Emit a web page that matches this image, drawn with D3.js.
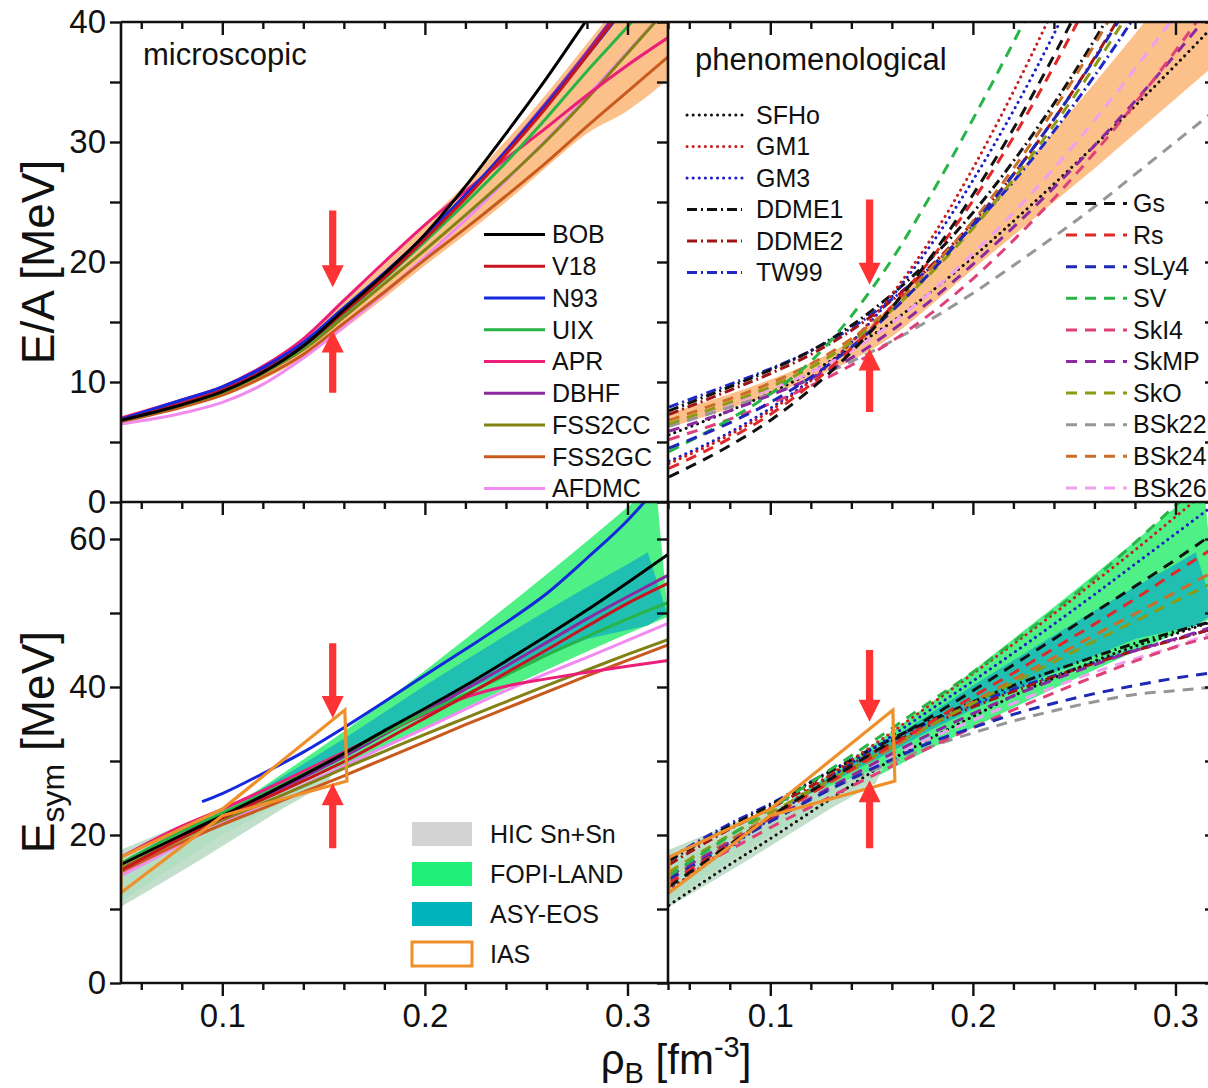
<!DOCTYPE html>
<html>
<head>
<meta charset="utf-8">
<script src="https://cdn.jsdelivr.net/npm/d3@7"></script>
<style>
  body { margin: 0; background: #fff; }
  svg { display: block; }
  text { font-family: "Liberation Sans", Arial, Helvetica, sans-serif; fill: #111; }
</style>
</head>
<body>
<svg id="chart" width="1208" height="1088"></svg>
<script>
// ---------------- data ----------------
// density grid (fm^-3) shared by the model curves
const rhoGrid = [0.05, 0.08, 0.10, 0.12, 0.14, 0.16, 0.18, 0.20, 0.22, 0.24, 0.26, 0.28, 0.30, 0.32];

// energy per nucleon E/A (MeV), microscopic models
const eaBOB    = [6.8, 8.1, 9.2, 10.8, 13.0, 16.0, 19.0, 22.3, 26.3, 30.7, 35.3, 40.2, 45.0, 50.0];
const eaV18    = [6.8, 8.2, 9.3, 10.9, 13.0, 15.8, 18.7, 21.9, 25.3, 29.0, 32.9, 37.2, 41.7, 46.4];
const eaN93    = [6.9, 8.5, 9.6, 11.2, 13.3, 16.2, 19.1, 22.2, 25.6, 29.2, 33.1, 37.2, 41.5, 46.0];
const eaUIX    = [6.8, 8.1, 9.2, 10.8, 12.9, 15.7, 18.6, 21.7, 24.9, 28.3, 32.0, 35.9, 39.6, 43.5];
const eaAPR    = [7.0, 8.5, 9.6, 11.3, 13.6, 16.8, 20.0, 23.1, 25.9, 28.6, 31.2, 33.9, 36.4, 38.7];
const eaDBHF   = [6.9, 8.3, 9.4, 11.0, 13.1, 16.0, 19.0, 22.1, 25.5, 29.3, 33.3, 37.5, 42.0, 46.5];
const eaFSS2CC = [6.8, 8.1, 9.1, 10.7, 12.7, 15.4, 18.2, 21.0, 23.9, 26.9, 30.1, 33.6, 37.4, 41.2];
const eaFSS2GC = [6.7, 7.9, 8.9, 10.4, 12.3, 14.9, 17.5, 20.2, 22.8, 25.5, 28.3, 31.3, 34.2, 37.1];
const eaAFDMC  = [6.5, 7.4, 8.3, 9.8, 12.0, 14.6, 17.4, 20.4, 23.5, 26.8, 30.2, 33.8, 37.5, 41.2];

// symmetry energy E_sym (MeV), microscopic models
const esBOB    = [16.0, 20.0, 22.6, 25.3, 28.1, 31.0, 34.1, 37.1, 40.2, 43.5, 46.9, 50.4, 54.1, 57.9];
const esV18    = [15.2, 19.6, 22.3, 24.8, 27.3, 29.9, 32.8, 35.8, 38.8, 41.9, 45.0, 48.2, 51.3, 54.0];
const esUIX    = [16.2, 20.5, 23.0, 25.5, 28.2, 31.0, 33.8, 36.5, 39.0, 41.6, 44.3, 46.8, 49.2, 51.4];
const esAPR    = [17.0, 21.2, 23.5, 26.0, 28.6, 31.2, 33.8, 36.3, 38.6, 40.1, 41.1, 42.0, 42.8, 43.6];
const esDBHF   = [null, 20.5, 22.8, 25.2, 27.8, 30.6, 33.6, 36.6, 39.7, 42.8, 46.0, 49.2, 52.2, 55.1];
const esFSS2CC = [15.5, 19.5, 22.0, 24.3, 26.6, 29.0, 31.3, 33.6, 35.8, 38.0, 40.2, 42.3, 44.4, 46.4];
const esFSS2GC = [15.0, 19.0, 21.4, 23.6, 25.8, 28.0, 30.3, 32.6, 34.9, 37.1, 39.3, 41.5, 43.6, 45.7];
const esAFDMC  = [14.5, 18.8, 21.6, 24.1, 26.7, 29.3, 31.9, 34.4, 37.0, 39.5, 41.8, 44.0, 46.3, 48.6];
const esN93Rho = [0.09, 0.10, 0.12, 0.14, 0.16, 0.18, 0.20, 0.22, 0.24, 0.26, 0.28, 0.30, 0.31];
const esN93    = [24.5, 25.6, 28.3, 31.2, 34.5, 38.0, 41.6, 45.1, 48.7, 52.6, 57.4, 62.5, 65.5];

// E/A (MeV), phenomenological models
const eaSFHo  = [5.6, 7.6, 9.1, 10.8, 12.8, 15.0, 17.6, 20.4, 23.4, 26.5, 29.7, 33.0, 36.4, 39.9];
const eaGM1   = [3.2, 5.6, 7.6, 10.1, 13.3, 17.3, 22.1, 27.8, 34.2, 41.2, 49.0, null, null, null];
const eaGM3   = [3.4, 5.8, 7.8, 10.2, 13.3, 17.1, 21.6, 26.8, 32.6, 39.0, 46.0, null, null, null];
const eaDDME1 = [7.6, 9.6, 11.0, 12.6, 14.7, 17.3, 20.4, 24.1, 28.4, 33.2, 38.5, 44.3, null, null];
const eaDDME2 = [7.3, 9.3, 10.7, 12.3, 14.3, 16.8, 19.8, 23.3, 27.3, 31.9, 37.0, 42.6, null, null];
const eaTW99  = [7.9, 9.8, 11.1, 12.6, 14.5, 16.9, 19.7, 23.0, 26.7, 30.9, 35.5, 40.5, 46.0, null];
const eaGs    = [2.1, 4.7, 6.8, 9.4, 12.5, 16.2, 20.6, 25.6, 31.1, 37.2, 43.8, null, null, null];
const eaRs    = [2.8, 5.3, 7.3, 9.8, 12.8, 16.3, 20.4, 25.1, 30.4, 36.3, 42.7, null, null, null];
const eaSLy4  = [4.5, 6.6, 8.3, 10.4, 12.9, 15.9, 19.3, 23.1, 27.3, 31.9, 36.9, 42.3, null, null];
const eaSV    = [4.2, 6.9, 9.0, 11.7, 15.5, 20.2, 25.8, 31.9, 38.3, 45.0, null, null, null, null];
const eaSkI4  = [5.2, 6.9, 8.2, 9.7, 11.4, 13.4, 15.8, 18.6, 21.8, 25.3, 29.1, 33.2, 37.6, 42.3];
const eaSkMP  = [5.9, 7.6, 8.9, 10.3, 12.0, 14.3, 16.9, 19.8, 22.9, 26.2, 29.7, 33.4, 37.3, 41.4];
const eaSkO   = [6.5, 8.3, 9.6, 11.2, 13.3, 16.0, 19.2, 22.8, 26.9, 31.4, 36.3, 41.6, null, null];
const eaBSk22 = [6.3, 7.9, 9.0, 10.2, 11.7, 13.4, 15.3, 17.4, 19.7, 22.1, 24.6, 27.3, 30.0, 32.7];
const eaBSk24 = [6.8, 8.6, 9.9, 11.5, 13.6, 16.3, 19.6, 23.4, 27.8, 32.7, 38.1, 44.0, null, null];
const eaBSk26 = [6.5, 8.2, 9.4, 10.8, 12.6, 14.9, 17.6, 20.7, 24.1, 27.8, 31.8, 36.1, 40.6, 45.3];

// E_sym (MeV), phenomenological models
const esSFHo  = [10.5, 16.0, 19.5, 23.1, 26.7, 30.2, 33.2, 36.0, 38.8, 41.2, 43.5, 45.5, 47.2, 49.0];
const esGM1   = [12.5, 18.5, 22.5, 26.3, 30.1, 33.9, 37.8, 41.8, 45.8, 49.9, 54.2, 58.5, 63.0, 67.5];
const esGM3   = [12.5, 18.3, 22.2, 26.0, 29.7, 33.4, 37.1, 40.8, 44.6, 48.5, 52.5, 56.6, 60.7, 64.8];
const esDDME1 = [16.5, 21.2, 24.0, 27.1, 30.1, 33.0, 35.6, 38.0, 40.2, 42.2, 44.1, 45.9, 47.5, 49.0];
const esDDME2 = [16.0, 20.8, 23.6, 26.6, 29.6, 32.4, 35.0, 37.3, 39.4, 41.4, 43.2, 44.9, 46.4, 48.0];
const esTW99  = [16.8, 21.5, 24.2, 27.2, 30.2, 33.0, 35.4, 37.6, 39.7, 41.5, 43.3, 45.0, 46.5, 48.0];
const esGs    = [13.0, 18.7, 22.5, 25.9, 29.3, 32.7, 36.1, 39.5, 43.0, 46.5, 50.1, 53.6, 57.2, 61.0];
const esRs    = [13.5, 18.8, 22.3, 25.6, 28.9, 32.1, 35.4, 38.7, 41.9, 45.2, 48.5, 51.9, 55.5, 59.0];
const esSLy4  = [14.0, 18.7, 21.8, 24.8, 27.6, 30.2, 32.6, 34.5, 36.3, 37.8, 39.1, 40.2, 41.2, 42.0];
const esSV    = [14.5, 19.9, 23.5, 27.1, 30.7, 34.4, 38.2, 42.0, 46.1, 50.3, 54.7, 59.5, 64.5, 69.0];
const esSkI4  = [13.5, 18.0, 21.0, 23.8, 26.6, 29.3, 32.0, 34.5, 36.9, 39.2, 41.4, 43.5, 45.4, 47.0];
const esSkMP  = [14.5, 19.0, 22.0, 25.0, 28.0, 31.0, 33.8, 36.4, 38.8, 41.0, 43.0, 44.9, 46.5, 48.3];
const esSkO   = [15.0, 20.0, 23.0, 26.0, 29.0, 32.0, 35.0, 37.8, 40.6, 43.4, 46.2, 48.9, 51.6, 54.3];
const esBSk22 = [14.5, 19.0, 22.0, 24.9, 27.5, 29.8, 32.0, 33.8, 35.4, 36.8, 38.0, 39.0, 39.5, 40.0];
const esBSk24 = [14.0, 19.3, 22.5, 25.6, 28.7, 31.8, 34.9, 38.0, 41.0, 44.0, 47.0, 49.9, 52.8, 55.8];
const esBSk26 = [14.5, 19.0, 22.0, 25.0, 28.0, 30.7, 33.2, 35.5, 37.8, 40.0, 42.0, 43.8, 45.5, 47.5];

// E/A uncertainty bands (upper / lower), MeV
const bandMicroUpper = [null, null, 9.7, 11.4, 13.7, 16.8, 19.9, 23.2, 26.5, 30.1, 34.0, 38.2, 42.5, 47.0];
const bandMicroLower = [null, null, 8.8, 10.2, 12.0, 14.4, 17.0, 19.7, 22.3, 25.0, 27.9, 30.7, 32.6, 35.2];
const bandPhenUpper  = [7.4, 9.0, 10.2, 11.6, 13.5, 16.4, 19.8, 23.3, 27.0, 30.9, 34.9, 39.0, 43.3, 47.7];
const bandPhenLower  = [6.2, 7.8, 8.9, 10.3, 11.8, 13.8, 16.5, 19.4, 22.2, 25.0, 27.8, 30.7, 33.6, 36.5];

// E_sym experimental constraints: polygons as [rho, E_sym]
const hicSnSn  = [[0.05, 18.0], [0.08, 21.4], [0.10, 23.5], [0.12, 25.6], [0.14, 27.7], [0.156, 29.3],
                  [0.152, 27.0], [0.13, 23.6], [0.11, 20.2], [0.09, 16.8], [0.07, 13.5], [0.05, 10.3]];
const fopiLand = [[0.05, 16.0], [0.08, 20.0], [0.10, 23.0], [0.12, 26.5], [0.14, 30.2], [0.16, 34.0],
                  [0.18, 38.0], [0.20, 42.2], [0.22, 46.5], [0.24, 50.8], [0.26, 55.2], [0.28, 59.7],
                  [0.30, 64.3], [0.314, 67.5], [0.32, 49.5], [0.30, 47.2], [0.28, 44.8], [0.26, 42.3],
                  [0.24, 39.8], [0.22, 37.2], [0.20, 34.5], [0.18, 31.8], [0.16, 29.0], [0.14, 26.0],
                  [0.12, 23.0], [0.10, 20.0], [0.08, 16.5], [0.05, 11.0]];
const asyEos   = [[0.10, 23.0], [0.12, 26.3], [0.14, 29.6], [0.16, 33.0], [0.18, 36.6], [0.20, 40.2],
                  [0.22, 43.6], [0.24, 47.0], [0.26, 50.3], [0.28, 53.5], [0.30, 56.6], [0.31, 58.2],
                  [0.3195, 50.0], [0.31, 48.3], [0.28, 46.5], [0.26, 44.2], [0.24, 42.0], [0.22, 39.5],
                  [0.20, 37.0], [0.18, 34.3], [0.16, 31.3], [0.14, 28.5], [0.12, 25.6], [0.10, 22.3]];
const ias      = [[0.05, 17.0], [0.10, 23.5], [0.1605, 36.9], [0.1615, 27.3], [0.10, 22.6], [0.05, 12.2]];

// saturation-density arrows: [rho, start, tip]
const arrowsEAmicro = [[0.1545, 24.3, 17.9], [0.1545, 9.1, 14.3]];
const arrowsEAphen  = [[0.149, 25.2, 18.1], [0.149, 7.5, 12.8]];
const arrowsESmicro = [[0.1545, 45.9, 35.8], [0.1545, 18.2, 27.0]];
const arrowsESphen  = [[0.149, 45.0, 35.3], [0.149, 18.2, 27.4]];

// tick labels
const xTickLabels = [0.1, 0.2, 0.3];
const eaTickLabels = [0, 10, 20, 30, 40];
const esTickLabels = [0, 20, 40, 60];

// ---------------- model tables ----------------
const microModels = [
  { name: "BOB",    color: "#000000", ea: eaBOB,    es: esBOB },
  { name: "V18",    color: "#c8141e", ea: eaV18,    es: esV18 },
  { name: "N93",    color: "#1428dc", ea: eaN93,    es: null },
  { name: "UIX",    color: "#28b446", ea: eaUIX,    es: esUIX },
  { name: "APR",    color: "#ec1e78", ea: eaAPR,    es: esAPR },
  { name: "DBHF",   color: "#8c28a0", ea: eaDBHF,   es: esDBHF },
  { name: "FSS2CC", color: "#828214", ea: eaFSS2CC, es: esFSS2CC },
  { name: "FSS2GC", color: "#c85a1e", ea: eaFSS2GC, es: esFSS2GC },
  { name: "AFDMC",  color: "#f08cf0", ea: eaAFDMC,  es: esAFDMC }
];
const DOT = "0.1,6", DASH = "11,8", DASHDOT = "10,4,2,4";
const phenModelsA = [
  { name: "SFHo",  color: "#111111", dash: DOT,     ea: eaSFHo,  es: esSFHo },
  { name: "GM1",   color: "#c81e1e", dash: DOT,     ea: eaGM1,   es: esGM1 },
  { name: "GM3",   color: "#1e1ec8", dash: DOT,     ea: eaGM3,   es: esGM3 },
  { name: "DDME1", color: "#111111", dash: DASHDOT, ea: eaDDME1, es: esDDME1 },
  { name: "DDME2", color: "#a01414", dash: DASHDOT, ea: eaDDME2, es: esDDME2 },
  { name: "TW99",  color: "#1e28c8", dash: DASHDOT, ea: eaTW99,  es: esTW99 }
];
const phenModelsB = [
  { name: "Gs",    color: "#111111", dash: DASH, ea: eaGs,    es: esGs },
  { name: "Rs",    color: "#e02828", dash: DASH, ea: eaRs,    es: esRs },
  { name: "SLy4",  color: "#1e28b4", dash: DASH, ea: eaSLy4,  es: esSLy4 },
  { name: "SV",    color: "#28b446", dash: DASH, ea: eaSV,    es: esSV },
  { name: "SkI4",  color: "#e0407a", dash: DASH, ea: eaSkI4,  es: esSkI4 },
  { name: "SkMP",  color: "#8c28a0", dash: DASH, ea: eaSkMP,  es: esSkMP },
  { name: "SkO",   color: "#8c9a14", dash: DASH, ea: eaSkO,   es: esSkO },
  { name: "BSk22", color: "#969696", dash: DASH, ea: eaBSk22, es: esBSk22 },
  { name: "BSk24", color: "#cc6e28", dash: DASH, ea: eaBSk24, es: esBSk24 },
  { name: "BSk26", color: "#f0a0f0", dash: DASH, ea: eaBSk26, es: esBSk26 }
];
const constraintLegend = [
  { name: "HIC Sn+Sn", fill: "#d3d3d3" },
  { name: "FOPI-LAND", fill: "#1ef078" },
  { name: "ASY-EOS",   fill: "#00b4be" },
  { name: "IAS",       fill: "none", stroke: "#f0902a" }
];

// ---------------- layout ----------------
const svg = d3.select("#chart");
const FONT_TICK = 33;
const xLeft  = d3.scaleLinear().domain([0.05, 0.32]).range([121, 668]);
const xRight = d3.scaleLinear().domain([0.05, 0.32]).range([669, 1216]);
const yEA = d3.scaleLinear().domain([0, 40]).range([502, 22]);
const yES = d3.scaleLinear().domain([0, 65]).range([983, 502]);

const defs = svg.append("defs");
function makeClip(id, x, y) {
  defs.append("clipPath").attr("id", id).append("rect")
    .attr("x", x.range()[0]).attr("y", y.range()[1])
    .attr("width", x.range()[1] - x.range()[0]).attr("height", y.range()[0] - y.range()[1]);
}
makeClip("clipTL", xLeft, yEA);
makeClip("clipTR", xRight, yEA);
makeClip("clipBL", xLeft, yES);
makeClip("clipBR", xRight, yES);

const pairs = vals => rhoGrid.map((r, i) => [r, vals[i]]);

function drawCurve(g, x, y, data, color, dash, width) {
  const line = d3.line().defined(d => d[1] != null)
    .x(d => x(d[0])).y(d => y(d[1])).curve(d3.curveMonotoneX);
  g.append("path").attr("d", line(data)).attr("fill", "none")
    .attr("stroke", color).attr("stroke-width", width || 3)
    .attr("stroke-dasharray", dash || null)
    .attr("stroke-linecap", dash === DOT ? "round" : "butt")
    .attr("stroke-linejoin", "round");
}
function drawBand(g, x, y, upper, lower, fill, opacity) {
  const area = d3.area().defined((d, i) => upper[i] != null)
    .x((d, i) => x(rhoGrid[i])).y0((d, i) => y(lower[i])).y1((d, i) => y(upper[i]))
    .curve(d3.curveMonotoneX);
  g.append("path").attr("d", area(rhoGrid)).attr("fill", fill).attr("fill-opacity", opacity);
}
function drawPolygon(g, x, y, pts, fill, stroke, opacity) {
  g.append("path")
    .attr("d", "M" + pts.map(p => x(p[0]) + "," + y(p[1])).join("L") + "Z")
    .attr("fill", fill).attr("fill-opacity", opacity == null ? 1 : opacity)
    .attr("stroke", stroke || "none").attr("stroke-width", stroke ? 3.2 : 0)
    .attr("stroke-linejoin", "miter");
}
function drawArrows(g, x, y, arrows) {
  arrows.forEach(([r, from, to]) => {
    const cx = x(r), y1 = y(from), y2 = y(to);
    const dir = Math.sign(y2 - y1), hl = 22, hw = 11, sw = 3.6;
    const yb = y2 - dir * hl;
    const pts = [[cx - sw, y1], [cx + sw, y1], [cx + sw, yb], [cx + hw, yb], [cx, y2], [cx - hw, yb], [cx - sw, yb]];
    g.append("path").attr("d", "M" + pts.map(p => p.join(",")).join("L") + "Z").attr("fill", "#ff3333");
  });
}

// ---------- top-left: E/A microscopic ----------
const gTL = svg.append("g").attr("clip-path", "url(#clipTL)");
drawBand(gTL, xLeft, yEA, bandMicroUpper, bandMicroLower, "#fbb675", 0.85);
microModels.slice().reverse().forEach(m => drawCurve(gTL, xLeft, yEA, pairs(m.ea), m.color));
drawArrows(svg, xLeft, yEA, arrowsEAmicro);

// ---------- top-right: E/A phenomenological ----------
const gTR = svg.append("g").attr("clip-path", "url(#clipTR)");
drawBand(gTR, xRight, yEA, bandPhenUpper, bandPhenLower, "#fbb675", 0.85);
phenModelsB.concat(phenModelsA).slice().reverse()
  .forEach(m => drawCurve(gTR, xRight, yEA, pairs(m.ea), m.color, m.dash));
drawArrows(svg, xRight, yEA, arrowsEAphen);

// ---------- bottom panels: constraints ----------
function drawConstraints(g, x) {
  drawPolygon(g, x, yES, fopiLand, "#3cf07a", null, 0.9);
  drawPolygon(g, x, yES, asyEos, "#1ebcb4", null, 0.95);
  drawPolygon(g, x, yES, hicSnSn, "#bcdcc6", null, 0.92);
}
const gBL = svg.append("g").attr("clip-path", "url(#clipBL)");
drawConstraints(gBL, xLeft);
microModels.slice().reverse().forEach(m => {
  if (m.es) drawCurve(gBL, xLeft, yES, pairs(m.es), m.color);
  else drawCurve(gBL, xLeft, yES, esN93Rho.map((r, i) => [r, esN93[i]]), m.color);
});
drawPolygon(gBL, xLeft, yES, ias, "none", "#f0902a");
drawArrows(svg, xLeft, yES, arrowsESmicro);

const gBR = svg.append("g").attr("clip-path", "url(#clipBR)");
drawConstraints(gBR, xRight);
phenModelsB.concat(phenModelsA).slice().reverse()
  .forEach(m => drawCurve(gBR, xRight, yES, pairs(m.es), m.color, m.dash));
drawPolygon(gBR, xRight, yES, ias, "none", "#f0902a");
drawArrows(svg, xRight, yES, arrowsESphen);

// ---------------- axes ----------------
const majorX = xTickLabels;
const minorX = d3.range(0.06, 0.321, 0.02).map(v => +v.toFixed(2)).filter(v => !majorX.includes(v));
function xAxisAt(x, yPos, labels) {
  const gMinor = svg.append("g").attr("transform", `translate(0,${yPos})`)
    .call(d3.axisBottom(x).tickValues(minorX).tickSize(7).tickFormat(""));
  const gMajor = svg.append("g").attr("transform", `translate(0,${yPos})`)
    .call(d3.axisBottom(x).tickValues(majorX).tickSize(13).tickPadding(8)
      .tickFormat(labels ? d3.format(".1f") : ""));
  [gMinor, gMajor].forEach(g => {
    g.select(".domain").remove();
    g.selectAll("line").attr("stroke", "#111").attr("stroke-width", 2.4);
    g.selectAll("text").attr("font-size", FONT_TICK).attr("fill", "#111")
      .attr("font-family", "'Liberation Sans', Arial, sans-serif");
  });
}
[22, 502, 983].forEach(yp => { xAxisAt(xLeft, yp, yp === 983); xAxisAt(xRight, yp, yp === 983); });

function yAxisAt(y, xPos, ticks, labels, labelVals) {
  const g = svg.append("g").attr("transform", `translate(${xPos},0)`)
    .call(d3.axisLeft(y).tickValues(ticks).tickSize(11).tickPadding(4)
      .tickFormat(d => (labels && labelVals.includes(d)) ? d : ""));
  g.select(".domain").remove();
  g.selectAll("line").attr("stroke", "#111").attr("stroke-width", 2.4);
  g.selectAll("text").attr("font-size", FONT_TICK).attr("fill", "#111")
    .attr("font-family", "'Liberation Sans', Arial, sans-serif");
}
const eaTicks = d3.range(0, 40.1, 5);
const esTicks = d3.range(0, 65, 10);
[121, 668, 1216].forEach(xp => {
  yAxisAt(yEA, xp, eaTicks, xp === 121, eaTickLabels);
  yAxisAt(yES, xp, esTicks, xp === 121, esTickLabels);
});

// panel frames
const frame = svg.append("g").attr("stroke", "#111").attr("stroke-width", 2.6).attr("fill", "none");
[22, 502, 983].forEach(yp => frame.append("line").attr("x1", 121).attr("x2", 1216).attr("y1", yp).attr("y2", yp));
[121, 668, 1216].forEach(xp => frame.append("line").attr("x1", xp).attr("x2", xp).attr("y1", 22).attr("y2", 983));

// ---------------- titles ----------------
svg.append("text").attr("x", 143).attr("y", 65).attr("font-size", 31).text("microscopic");
svg.append("text").attr("x", 695).attr("y", 70).attr("font-size", 31).text("phenomenological");

const tEA = svg.append("text").attr("transform", "translate(54,262) rotate(-90)")
  .attr("text-anchor", "middle").attr("font-size", 46);
tEA.text("E/A [MeV]");
const tES = svg.append("text").attr("transform", "translate(54,742) rotate(-90)")
  .attr("text-anchor", "middle").attr("font-size", 46);
tES.append("tspan").text("E");
tES.append("tspan").attr("font-size", 32).attr("dy", 10).text("sym");
tES.append("tspan").attr("dy", -10).text(" [MeV]");
const tX = svg.append("text").attr("x", 676).attr("y", 1074).attr("text-anchor", "middle").attr("font-size", 42);
tX.append("tspan").text("ρ");
tX.append("tspan").attr("font-size", 29).attr("dy", 9).text("B");
tX.append("tspan").attr("dy", -9).text(" [fm");
tX.append("tspan").attr("font-size", 29).attr("dy", -17).text("-3");
tX.append("tspan").attr("dy", 17).text("]");

// ---------------- legends ----------------
function lineLegend(items, x0, x1, xt, y0, step) {
  items.forEach((m, i) => {
    const yy = y0 + i * step;
    svg.append("line").attr("x1", x0).attr("x2", x1).attr("y1", yy).attr("y2", yy)
      .attr("stroke", m.color).attr("stroke-width", 3)
      .attr("stroke-dasharray", m.dash || null)
      .attr("stroke-linecap", m.dash === DOT ? "round" : "butt");
    svg.append("text").attr("x", xt).attr("y", yy).attr("dy", "0.35em").attr("font-size", 25).text(m.name);
  });
}
lineLegend(microModels, 484, 545, 552, 234.5, 31.75);
lineLegend(phenModelsA, 687, 742, 756, 115, 31.5);
lineLegend(phenModelsB, 1066, 1127, 1133, 203.5, 31.6);

constraintLegend.forEach((c, i) => {
  const yy = 834 + i * 40;
  const r = svg.append("rect").attr("x", 412).attr("y", yy - 12).attr("width", 60).attr("height", 24);
  if (c.stroke) r.attr("fill", "none").attr("stroke", c.stroke).attr("stroke-width", 3);
  else r.attr("fill", c.fill);
  svg.append("text").attr("x", 490).attr("y", yy).attr("dy", "0.35em").attr("font-size", 25).text(c.name);
});
</script>
</body>
</html>
